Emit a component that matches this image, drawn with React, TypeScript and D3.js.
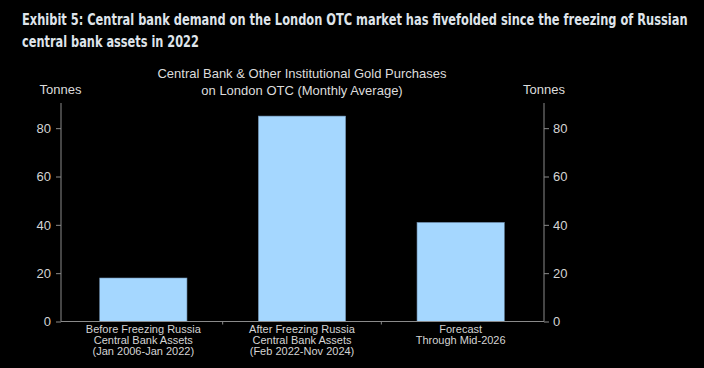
import React, { useRef, useEffect } from 'react';
import * as d3 from 'd3';

const categories = [
  ['Before Freezing Russia', 'Central Bank Assets', '(Jan 2006-Jan 2022)'],
  ['After Freezing Russia', 'Central Bank Assets', '(Feb 2022-Nov 2024)'],
  ['Forecast', 'Through Mid-2026'],
];
const purchases = [18, 85, 41];
const yTicks = [0, 20, 40, 60, 80];

const W = 704;
const H = 368;

const App = () => {
  const ref = useRef<SVGSVGElement>(null);

  useEffect(() => {
    const svg = d3.select(ref.current);
    svg.selectAll('*').remove();

    svg.append('rect').attr('width', W).attr('height', H).attr('fill', '#000');

    const left = 61;
    const right = 544;
    const x = d3.scaleBand<number>()
      .domain(d3.range(categories.length))
      .range([64, 540])
      .paddingInner(0.45)
      .paddingOuter(0.225);
    const y = d3.scaleLinear().domain([0, 90]).range([321.5, 104]);

    // headline: no condensed face installed, so squeeze each line horizontally
    const headLines: [string, number, number][] = [
      ['Exhibit 5: Central bank demand on the London OTC market has fivefolded since the freezing of Russian', 25, 666],
      ['central bank assets in 2022', 47, 177],
    ];
    headLines.forEach(([txt, yy, w]) => {
      const g = svg.append('g');
      const t = g.append('text')
        .attr('font-family', '"DejaVu Sans", sans-serif')
        .attr('font-weight', 'bold')
        .attr('font-size', 15.5)
        .attr('fill', '#dfe4ea')
        .text(txt);
      const natural = (t.node() as SVGTextElement).getComputedTextLength() || w;
      g.attr('transform', `translate(22,${yy}) scale(${w / natural},1)`);
    });

    const font = '"Liberation Sans", Arial, sans-serif';

    // chart title
    const title = svg.append('text')
      .attr('font-family', font)
      .attr('font-size', 13)
      .attr('fill', '#dcdcdc')
      .attr('text-anchor', 'middle');
    title.append('tspan').attr('x', 302).attr('y', 78).text('Central Bank & Other Institutional Gold Purchases');
    title.append('tspan').attr('x', 302).attr('y', 95).text('on London OTC (Monthly Average)');

    svg.append('text').attr('x', 60.5).attr('y', 94).attr('text-anchor', 'middle')
      .attr('font-family', font).attr('font-size', 13).attr('fill', '#dcdcdc').text('Tonnes');
    svg.append('text').attr('x', 544).attr('y', 94).attr('text-anchor', 'middle')
      .attr('font-family', font).attr('font-size', 13).attr('fill', '#dcdcdc').text('Tonnes');

    // bars
    svg.append('g')
      .selectAll('rect')
      .data(purchases)
      .join('rect')
      .attr('x', (_, i) => x(i)!)
      .attr('y', d => y(d))
      .attr('width', x.bandwidth())
      .attr('height', d => y(0) - y(d))
      .attr('fill', '#a5d7ff')
      .attr('stroke', '#6f8fae')
      .attr('stroke-width', 0.6);

    const axisColor = '#8a8a8a';

    // left axis
    const yl = svg.append('g').attr('transform', `translate(${left},0)`)
      .call(d3.axisLeft(y).tickValues(yTicks).tickSize(5).tickPadding(5));
    // right axis
    const yr = svg.append('g').attr('transform', `translate(${right},0)`)
      .call(d3.axisRight(y).tickValues(yTicks).tickSize(5).tickPadding(4));
    [yl, yr].forEach(g => {
      g.select('.domain').remove();
      g.selectAll('line').attr('stroke', axisColor);
      g.selectAll('text').attr('fill', '#d4d4d4').attr('font-size', 13).attr('font-family', font);
      g.append('line').attr('y1', 103).attr('y2', y(0)).attr('stroke', axisColor);
    });

    // bottom axis
    svg.append('line').attr('x1', left).attr('x2', right).attr('y1', y(0)).attr('y2', y(0))
      .attr('stroke', axisColor);
    const step = x.step();
    svg.append('g').selectAll('line')
      .data(d3.range(1, categories.length))
      .join('line')
      .attr('x1', i => x(i)! - step * x.paddingInner() / 2)
      .attr('x2', i => x(i)! - step * x.paddingInner() / 2)
      .attr('y1', y(0))
      .attr('y2', y(0) + 3)
      .attr('stroke', axisColor);

    const labels = svg.append('g')
      .attr('font-family', font)
      .attr('font-size', 11)
      .attr('fill', '#d4d4d4')
      .attr('text-anchor', 'middle');
    categories.forEach((lines, i) => {
      const t = labels.append('text');
      lines.forEach((l, j) => {
        t.append('tspan')
          .attr('x', x(i)! + x.bandwidth() / 2)
          .attr('y', 333 + j * 11)
          .text(l);
      });
    });

    return () => {
      d3.select(ref.current).selectAll('*').remove();
    };
  }, []);

  return (
    <svg ref={ref} width={W} height={H} style={{ position: 'absolute', left: 0, top: 0, display: 'block' }}></svg>
  );
};

export default App;
